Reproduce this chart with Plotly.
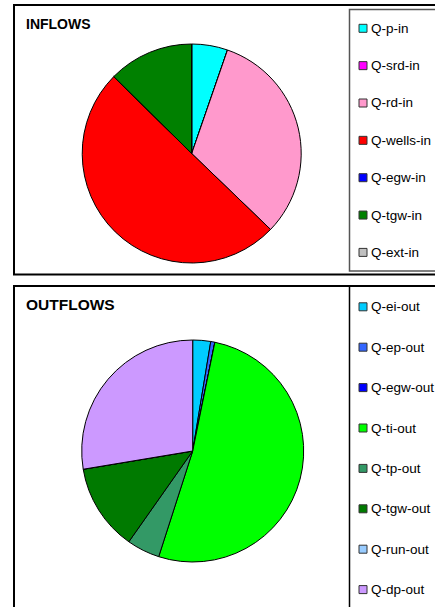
import plotly.graph_objects as go

# ----------------------------------
# DATA
# ----------------------------------

inflow_labels = ["Q-p-in", "Q-srd-in", "Q-rd-in", "Q-wells-in",
                 "Q-egw-in", "Q-tgw-in", "Q-ext-in"]
inflow_values = [5.3, 0, 31.9, 50.2, 0, 12.6, 0]
inflow_colors = ["#00FFFF", "#FF00FF", "#FF99CC", "#FF0000",
                 "#0000FF", "#008000", "#C0C0C0"]

outflow_labels = ["Q-ei-out", "Q-ep-out", "Q-egw-out", "Q-ti-out",
                  "Q-tp-out", "Q-tgw-out", "Q-run-out", "Q-dp-out"]
outflow_values = [2.6, 0.6, 0, 51.7, 4.8, 12.6, 0, 27.6]
outflow_colors = ["#00CCFF", "#3366FF", "#0000FF", "#00FF00",
                  "#339966", "#007A00", "#99CCFF", "#CC99FF"]

# ----------------------------------
# PAGE GEOMETRY (pixels)
# ----------------------------------

W = 435
H = 607
FONT = "Arial, Liberation Sans, sans-serif"

# no body margin, no scrollbars
PAGE_JS = (
    "document.body.style.margin='0';"
    "document.body.style.overflow='hidden';"
    "document.documentElement.style.overflow='hidden';"
)


def px(x):
    return x / W


def py(y):
    return 1 - y / H


def pie_domain(cx, cy, r):
    return dict(x=[px(cx - r), px(cx + r)], y=[py(cy + r), py(cy - r)])


# ----------------------------------
# FIGURE
# ----------------------------------

fig = go.Figure()

fig.add_trace(go.Pie(
    labels=inflow_labels,
    values=inflow_values,
    marker=dict(colors=inflow_colors, line=dict(color="black", width=1)),
    sort=False,
    direction="clockwise",
    rotation=0,
    textinfo="none",
    showlegend=False,
    domain=pie_domain(191.7, 153.5, 109.5)
))

fig.add_trace(go.Pie(
    labels=outflow_labels,
    values=outflow_values,
    marker=dict(colors=outflow_colors, line=dict(color="black", width=1)),
    sort=False,
    direction="clockwise",
    rotation=0,
    textinfo="none",
    showlegend=False,
    domain=pie_domain(192.7, 451, 111)
))

shapes = []
annotations = []


def panel(y0, y1, ly0, ly1, legend_color):
    shapes.append(dict(type="rect", xref="paper", yref="paper",
                       x0=px(14), x1=px(445), y0=py(y0), y1=py(y1),
                       line=dict(color="black", width=2)))
    shapes.append(dict(type="rect", xref="paper", yref="paper",
                       x0=px(349.5), x1=px(445), y0=py(ly0), y1=py(ly1),
                       line=dict(color=legend_color, width=1.5)))


def legend(labels, colors, first_y, step):
    for i, (name, col) in enumerate(zip(labels, colors)):
        yc = first_y + i * step
        shapes.append(dict(type="rect", xref="paper", yref="paper",
                           x0=px(359), x1=px(367), y0=py(yc - 4), y1=py(yc + 4),
                           fillcolor=col, line=dict(color="#333333", width=1)))
        annotations.append(dict(x=px(370.5), y=py(yc), xref="paper", yref="paper",
                                text=name, showarrow=False,
                                xanchor="left", yanchor="middle",
                                borderpad=0, borderwidth=0,
                                font=dict(family=FONT, size=13.5, color="black")))


def title(text, y, size):
    annotations.append(dict(x=px(26), y=py(y), xref="paper", yref="paper",
                            text="<b>" + text + "</b>", showarrow=False,
                            xanchor="left", yanchor="middle",
                            borderpad=0, borderwidth=0,
                            font=dict(family=FONT, size=size, color="black")))


panel(5, 274.5, 9.5, 271, "#555555")
panel(286, 620, 286, 620, "black")

legend(inflow_labels, inflow_colors, 28.3, 37.35)
legend(outflow_labels, outflow_colors, 306.8, 40.4)

title("INFLOWS", 24.5, 14)
title("OUTFLOWS", 304.5, 15.5)

fig.update_layout(
    width=W,
    height=H,
    autosize=False,
    margin=dict(l=0, r=0, t=0, b=0),
    paper_bgcolor="white",
    plot_bgcolor="white",
    font=dict(family=FONT),
    shapes=shapes,
    annotations=annotations
)

fig.write_html("out.html", post_script=PAGE_JS,
               config={"displayModeBar": False})
